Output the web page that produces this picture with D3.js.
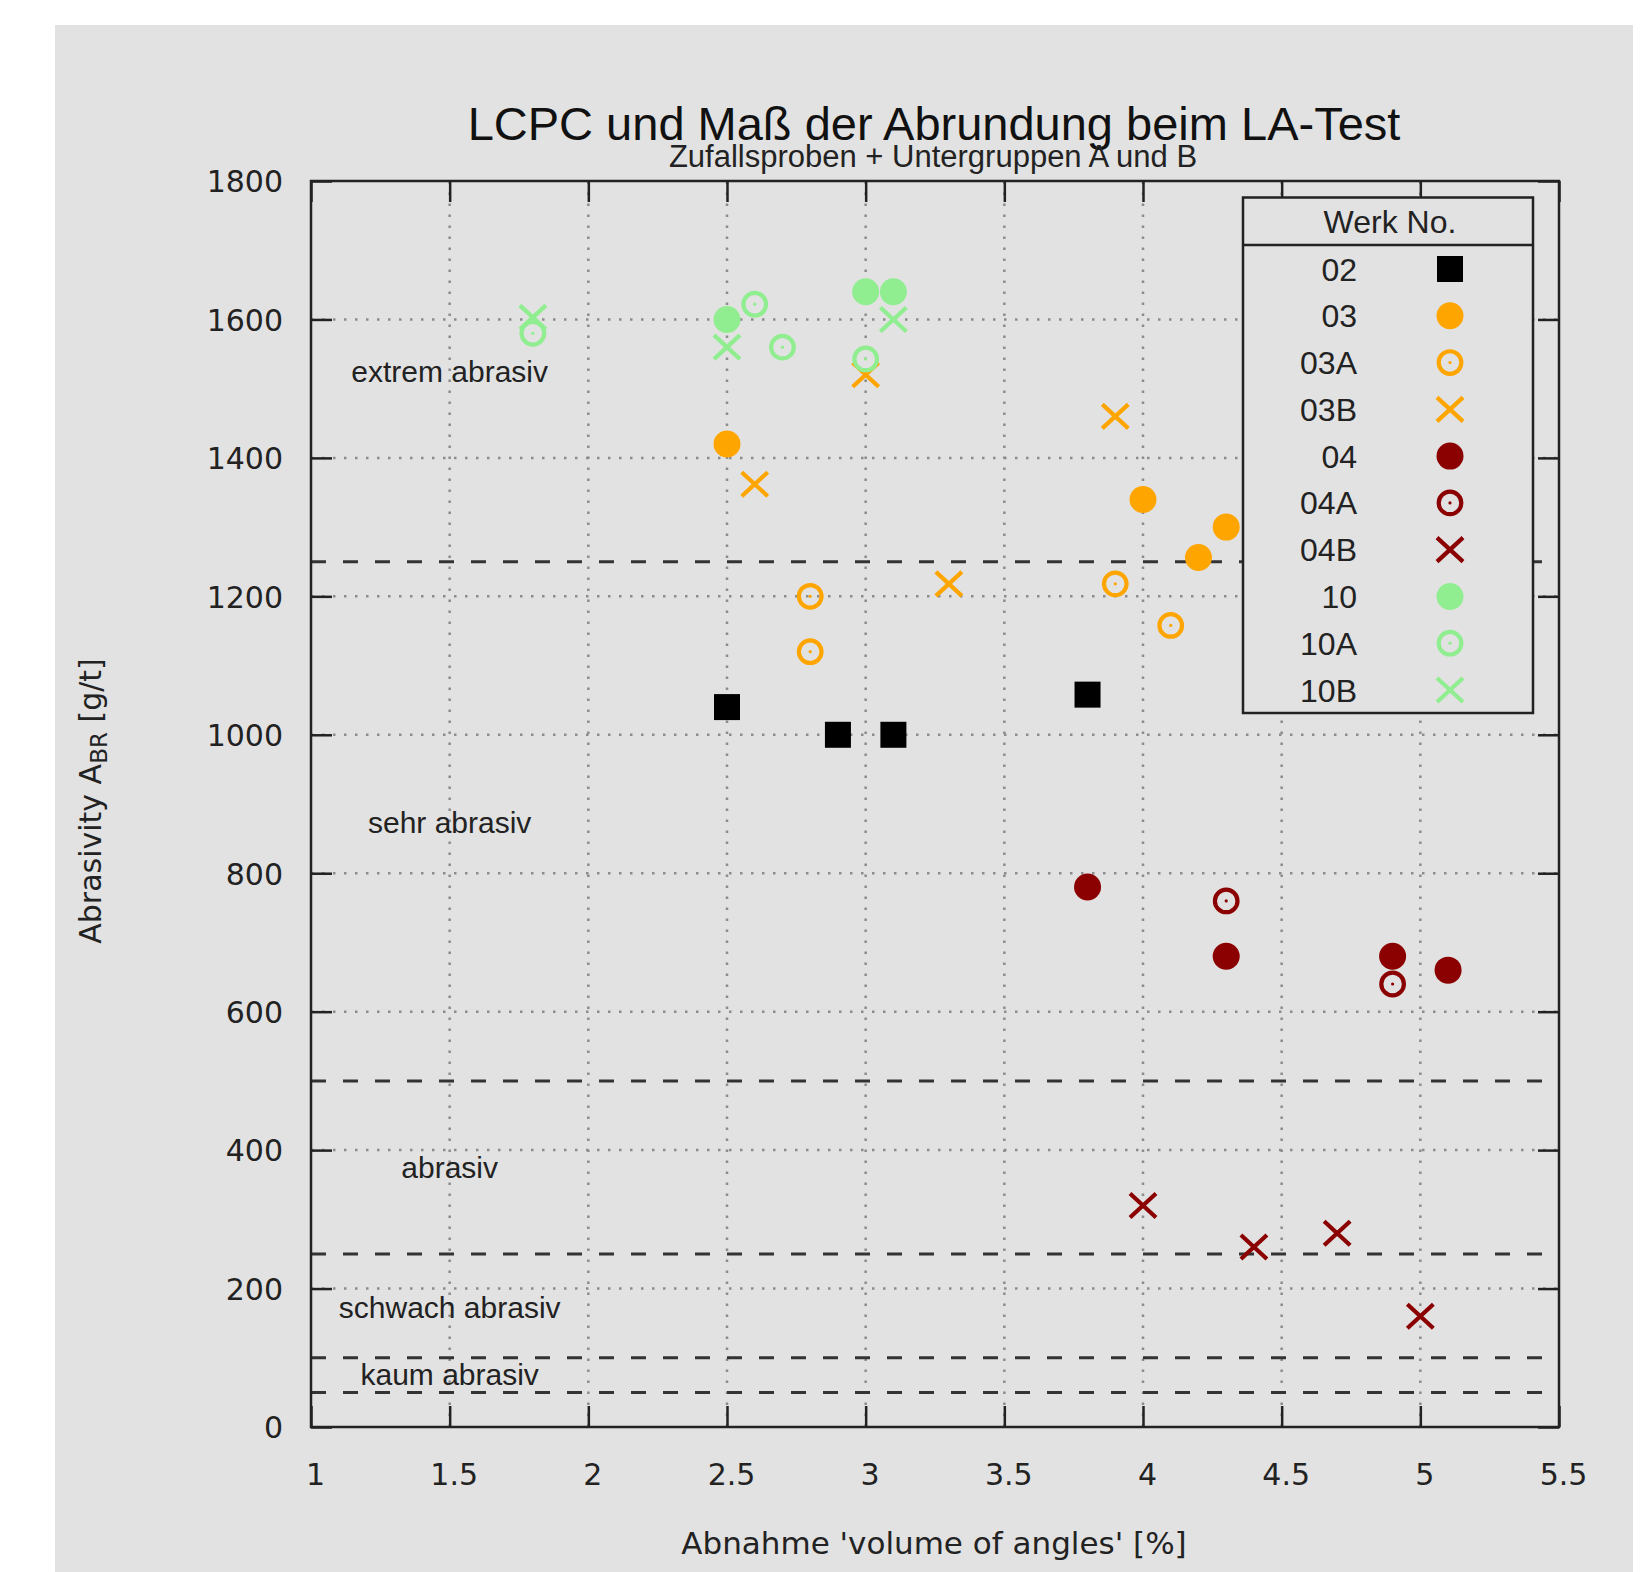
<!DOCTYPE html>
<html>
<head>
<meta charset="utf-8">
<script src="https://cdn.jsdelivr.net/npm/d3@7"></script>
<style>
  html, body { margin: 0; padding: 0; background: #fff; }
  svg { display: block; }
</style>
</head>
<body>
<div id="container"></div>
<script>
// Data: [volume of angles %, abrasivity g/t]
const werk02 = [[2.5, 1040], [2.9, 1000], [3.1, 1000], [3.8, 1058]];
const werk03 = [[2.5, 1420], [4.0, 1340], [4.2, 1256], [4.3, 1300]];
const werk03A = [[2.8, 1200], [2.8, 1120], [3.9, 1218], [4.1, 1158]];
const werk03B = [[2.6, 1362], [3.0, 1520], [3.3, 1218], [3.9, 1460]];
const werk04 = [[3.8, 780], [4.3, 680], [4.9, 680], [5.1, 660]];
const werk04A = [[4.3, 760], [4.9, 640]];
const werk04B = [[4.0, 320], [4.4, 260], [4.7, 280], [5.0, 160]];
const werk10 = [[2.5, 1600], [3.0, 1640], [3.1, 1640]];
const werk10A = [[1.8, 1580], [2.6, 1622], [2.7, 1560], [3.0, 1543]];
const werk10B = [[1.8, 1603], [2.5, 1560], [3.1, 1600]];

const seriesNames = ["02", "03", "03A", "03B", "04", "04A", "04B", "10", "10A", "10B"];
const seriesData = [werk02, werk03, werk03A, werk03B, werk04, werk04A, werk04B, werk10, werk10A, werk10B];

// Abrasivity class limits and labels
const zoneLimits = [1250, 500, 250, 100, 50];
const zoneLabels = ["extrem abrasiv", "sehr abrasiv", "abrasiv", "schwach abrasiv", "kaum abrasiv"];
const zoneLabelY = [1510, 858, 360, 158, 61];
const zoneLabelX = 1.5;

const xTicks = [1, 1.5, 2, 2.5, 3, 3.5, 4, 4.5, 5, 5.5];
const yTicks = [0, 200, 400, 600, 800, 1000, 1200, 1400, 1600, 1800];

const titleText = "LCPC und Maß der Abrundung beim LA-Test";
const subtitleText = "Zufallsproben + Untergruppen A und B";
const xLabelText = "Abnahme 'volume of angles' [%]";
const legendTitle = "Werk No.";

// Styles per series
const styles = {
  "02":  { shape: "square", color: "#000000" },
  "03":  { shape: "dot", color: "#ffa500" },
  "03A": { shape: "ring", color: "#ffa500" },
  "03B": { shape: "cross", color: "#ffa500" },
  "04":  { shape: "dot", color: "#8b0000" },
  "04A": { shape: "ring", color: "#8b0000" },
  "04B": { shape: "cross", color: "#8b0000" },
  "10":  { shape: "dot", color: "#90ee90" },
  "10A": { shape: "ring", color: "#90ee90" },
  "10B": { shape: "cross", color: "#90ee90" }
};

const W = 1649, H = 1572;
const plot = { left: 311, right: 1559, top: 181, bottom: 1427 };
const bg = "#e2e2e2";
const ink = "#222";
const sans = "'Liberation Sans', Arial, sans-serif";
const dejavu = "'DejaVu Sans', sans-serif";

const svg = d3.select("#container").append("svg")
  .attr("width", W)
  .attr("height", H);

svg.append("rect")
  .attr("x", 55).attr("y", 25)
  .attr("width", 1633 - 55).attr("height", H - 25)
  .attr("fill", bg);

const x = d3.scaleLinear().domain([1, 5.5]).range([plot.left, plot.right]);
const y = d3.scaleLinear().domain([0, 1800]).range([plot.bottom, plot.top]);

// Grid
const grid = svg.append("g")
  .attr("stroke", "#8c8c8c")
  .attr("stroke-width", 2.5)
  .attr("stroke-dasharray", "2.5,8.5");

grid.selectAll("line.gx")
  .data(xTicks.slice(1, -1))
  .enter().append("line")
  .attr("x1", d => x(d)).attr("x2", d => x(d))
  .attr("y1", plot.bottom).attr("y2", plot.top);

grid.selectAll("line.gy")
  .data(yTicks.slice(1, -1))
  .enter().append("line")
  .attr("x1", plot.left).attr("x2", plot.right)
  .attr("y1", d => y(d)).attr("y2", d => y(d));

// Class limits
svg.append("g")
  .selectAll("line")
  .data(zoneLimits)
  .enter().append("line")
  .attr("x1", plot.left).attr("x2", plot.right)
  .attr("y1", d => y(d)).attr("y2", d => y(d))
  .attr("stroke", "#333")
  .attr("stroke-width", 3)
  .attr("stroke-dasharray", "15,17");

// Axes (ticks pointing inwards, mirrored on top and right)
const tickLen = 21;

const xAxis = svg.append("g")
  .attr("transform", `translate(0,${plot.bottom})`)
  .call(d3.axisBottom(x).tickValues(xTicks).tickFormat(d => String(d))
    .tickSizeInner(-tickLen).tickSizeOuter(0).tickPadding(0));

xAxis.selectAll("text")
  .attr("y", 58).attr("dy", 0).attr("dx", 4)
  .style("font-family", dejavu).style("font-size", "30px").attr("fill", ink);

const yAxis = svg.append("g")
  .attr("transform", `translate(${plot.left},0)`)
  .call(d3.axisLeft(y).tickValues(yTicks).tickFormat(d3.format("d"))
    .tickSizeInner(-tickLen).tickSizeOuter(0).tickPadding(28));

yAxis.selectAll("text")
  .attr("dy", "0.36em")
  .style("font-family", dejavu).style("font-size", "30px").attr("fill", ink);

svg.append("g")
  .attr("transform", `translate(0,${plot.top})`)
  .call(d3.axisTop(x).tickValues(xTicks).tickSizeInner(-tickLen).tickSizeOuter(0).tickFormat(""));

svg.append("g")
  .attr("transform", `translate(${plot.right},0)`)
  .call(d3.axisRight(y).tickValues(yTicks).tickSizeInner(-tickLen).tickSizeOuter(0).tickFormat(""));

svg.selectAll(".domain").remove();
svg.selectAll(".tick line").attr("stroke", ink).attr("stroke-width", 2.5);

svg.append("rect")
  .attr("x", plot.left).attr("y", plot.top)
  .attr("width", plot.right - plot.left).attr("height", plot.bottom - plot.top)
  .attr("fill", "none")
  .attr("stroke", ink)
  .attr("stroke-width", 2.5);

// Zone labels
svg.append("g")
  .selectAll("text")
  .data(zoneLabels)
  .enter().append("text")
  .attr("x", x(zoneLabelX))
  .attr("y", (d, i) => y(zoneLabelY[i]))
  .attr("text-anchor", "middle")
  .style("font-family", sans)
  .style("font-size", "30px")
  .attr("fill", ink)
  .text(d => d);

// Point symbols
function drawSymbol(g, shape, color) {
  if (shape === "square") {
    g.append("rect")
      .attr("x", -13).attr("y", -13)
      .attr("width", 26).attr("height", 26)
      .attr("fill", color);
  } else if (shape === "dot") {
    g.append("circle").attr("r", 13.5).attr("fill", color);
  } else if (shape === "ring") {
    g.append("circle").attr("r", 11.3)
      .attr("fill", "none").attr("stroke", color).attr("stroke-width", 4.2);
    g.append("circle").attr("r", 1.6).attr("fill", color);
  } else {
    g.append("path")
      .attr("d", "M-13,-12L13,12M-13,12L13,-12")
      .attr("stroke", color).attr("stroke-width", 4.2)
      .attr("fill", "none");
  }
}

const points = svg.append("g");
seriesNames.forEach((name, i) => {
  const st = styles[name];
  points.selectAll(null)
    .data(seriesData[i])
    .enter().append("g")
    .attr("transform", d => `translate(${x(d[0])},${y(d[1])})`)
    .each(function () { drawSymbol(d3.select(this), st.shape, st.color); });
});

// Legend
const legend = svg.append("g");
const lg = { left: 1243, right: 1533, top: 197.5, head: 245, bottom: 713 };

legend.append("rect")
  .attr("x", lg.left).attr("y", lg.top)
  .attr("width", lg.right - lg.left).attr("height", lg.bottom - lg.top)
  .attr("fill", bg)
  .attr("stroke", ink)
  .attr("stroke-width", 2.5);

legend.append("line")
  .attr("x1", lg.left).attr("x2", lg.right)
  .attr("y1", lg.head).attr("y2", lg.head)
  .attr("stroke", ink)
  .attr("stroke-width", 2.5);

legend.append("text")
  .attr("x", (lg.left + lg.right) / 2 + 2)
  .attr("y", 233)
  .attr("text-anchor", "middle")
  .style("font-family", sans)
  .style("font-size", "32px")
  .attr("fill", ink)
  .text(legendTitle);

const rowY = d3.scalePoint().domain(seriesNames).range([269, 690]);

const rows = legend.selectAll("g.row")
  .data(seriesNames)
  .enter().append("g")
  .attr("class", "row")
  .attr("transform", d => `translate(0,${rowY(d)})`);

rows.append("text")
  .attr("x", 1357)
  .attr("y", 11.5)
  .attr("text-anchor", "end")
  .style("font-family", sans)
  .style("font-size", "32px")
  .attr("fill", ink)
  .text(d => d);

rows.append("g")
  .attr("transform", "translate(1450,0)")
  .each(function (d) { drawSymbol(d3.select(this), styles[d].shape, styles[d].color); });

// Titles
svg.append("text")
  .attr("x", 934).attr("y", 140)
  .attr("text-anchor", "middle")
  .style("font-family", sans).style("font-size", "47px")
  .attr("fill", "#111")
  .text(titleText);

svg.append("text")
  .attr("x", 933).attr("y", 167)
  .attr("text-anchor", "middle")
  .style("font-family", sans).style("font-size", "31px")
  .attr("fill", ink)
  .text(subtitleText);

svg.append("text")
  .attr("x", 934).attr("y", 1554)
  .attr("text-anchor", "middle")
  .style("font-family", dejavu).style("font-size", "31px")
  .attr("fill", ink)
  .text(xLabelText);

const yLabel = svg.append("text")
  .attr("transform", "translate(101,801) rotate(-90)")
  .attr("text-anchor", "middle")
  .style("font-family", dejavu).style("font-size", "30px")
  .attr("fill", ink);
yLabel.append("tspan").text("Abrasivity A");
yLabel.append("tspan").attr("dy", 6).style("font-size", "23px").text("BR");
yLabel.append("tspan").attr("dy", -6).text(" [g/t]");
</script>
</body>
</html>
